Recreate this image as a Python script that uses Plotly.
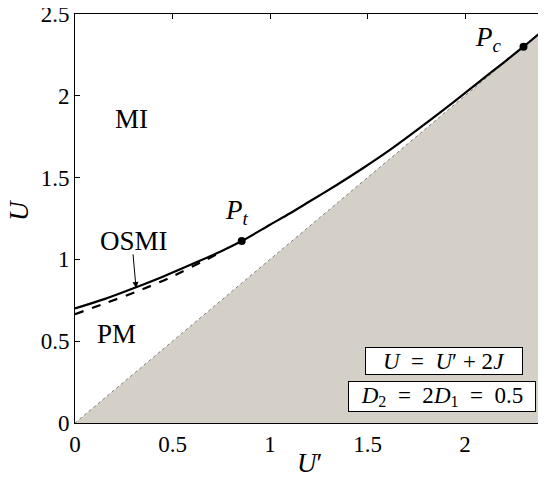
import plotly.graph_objects as go

# phase boundary (solid)
u_prime_solid = [0.0, 0.15, 0.31, 0.45, 0.61, 0.75, 0.855, 1.0, 1.103, 1.2, 1.342, 1.48, 1.615, 1.77, 1.923, 2.077, 2.2, 2.3, 2.4]
u_solid = [0.70, 0.757, 0.828, 0.894, 0.976, 1.05, 1.112, 1.212, 1.282, 1.352, 1.455, 1.56, 1.669, 1.805, 1.944, 2.09, 2.205, 2.3, 2.4]

# OSMI boundary (dashed)
u_prime_dash = [0.0, 0.15, 0.31, 0.48, 0.65, 0.76]
u_dash = [0.665, 0.73, 0.80, 0.885, 0.985, 1.05]

# U = U' line
u_prime_line = [0.0, 2.4]
u_line = [0.0, 2.4]

# special points
pt_x, pt_y = [0.855], [1.112]
pc_x, pc_y = [2.3], [2.3]

font = "Liberation Serif"
eq = "\u2002=\u2002"

fig = go.Figure()

# gray region below U = U'
fig.add_trace(go.Scatter(
    x=u_prime_line + [u_prime_line[-1]], y=u_line + [u_line[0]],
    fill="toself", fillcolor="#d4d0c8", mode="lines",
    line=dict(color="#808080", width=1, dash="dot"), hoverinfo="skip"))

fig.add_trace(go.Scatter(x=u_prime_dash, y=u_dash, mode="lines",
                         line=dict(color="black", width=2.2, dash="dash", shape="spline", smoothing=0.8)))
fig.add_trace(go.Scatter(x=u_prime_solid, y=u_solid, mode="lines",
                         line=dict(color="black", width=2.2, shape="spline", smoothing=0.8)))
fig.add_trace(go.Scatter(x=pt_x + pc_x, y=pt_y + pc_y, mode="markers",
                         marker=dict(color="black", size=8)))

txt = dict(family=font, size=27, color="black")
fig.add_annotation(x=0.29, y=1.86, text="MI", showarrow=False, font=txt)
fig.add_annotation(x=0.215, y=0.545, text="PM", showarrow=False, font=txt)
fig.add_annotation(x=0.83, y=1.29, text="<i>P<sub>t</sub></i>", showarrow=False, font=txt)
fig.add_annotation(x=2.12, y=2.35, text="<i>P<sub>c</sub></i>", showarrow=False, font=txt)
fig.add_annotation(x=0.313, y=0.825, ax=0.297, ay=1.04, axref="x", ayref="y",
                   text="", showarrow=True, arrowhead=2, arrowsize=1.2, arrowwidth=1, arrowcolor="black")
fig.add_annotation(x=0.30, y=1.11, text="OSMI", showarrow=False, font=txt)

box = dict(family=font, size=23, color="black")
fig.add_annotation(x=1.89, y=0.38, text="<i>U</i>" + eq + "<i>U</i>′ + 2<i>J</i>", showarrow=False,
                   font=box, bgcolor="white", bordercolor="black", borderwidth=1, borderpad=0, width=156, height=26)
fig.add_annotation(x=1.88, y=0.16, text="<i>D</i><sub>2</sub>" + eq + "2<i>D</i><sub>1</sub>" + eq + "0.5",
                   showarrow=False, font=box, bgcolor="white", bordercolor="black", borderwidth=1,
                   borderpad=0, width=186, height=29)

# axis titles
fig.add_annotation(x=0.5, y=-0.098, xref="paper", yref="paper", text="<i>U</i>′", showarrow=False,
                   font=txt, xanchor="center", yanchor="middle")
fig.add_annotation(x=-0.118, y=0.52, xref="paper", yref="paper", text="<i>U</i>", showarrow=False,
                   font=txt, textangle=-90, xanchor="center", yanchor="middle")

axis = dict(range=[0, 2.4], dtick=0.5, ticks="inside", ticklen=5, tickcolor="black",
            showline=True, linecolor="black", linewidth=1, mirror="ticks", layer="below traces",
            showgrid=False, zeroline=False, automargin=False, ticklabeloverflow="allow",
            tickfont=dict(family=font, size=23, color="black"))
fig.update_xaxes(**axis)
fig.update_yaxes(**axis)
fig.update_yaxes(range=[0, 2.5])

# page body adds 8px offset, so the figure is sized to fit the window
fig.update_layout(width=538, height=469, margin=dict(l=67, r=3, t=6, b=54),
                  plot_bgcolor="white", paper_bgcolor="white", showlegend=False)

fig.write_html("out.html")
